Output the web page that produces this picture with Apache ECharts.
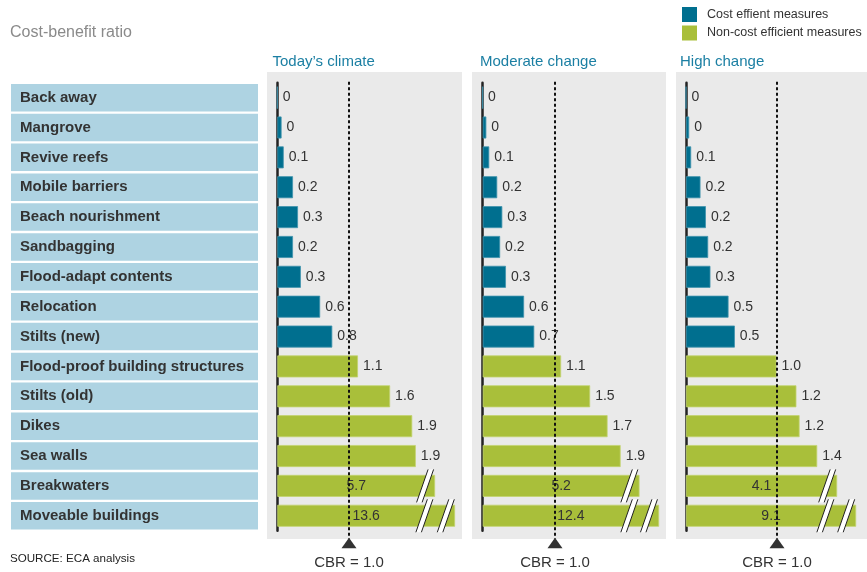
<!DOCTYPE html>
<html><head><meta charset="utf-8">
<script src="https://cdn.jsdelivr.net/npm/echarts@6/dist/echarts.min.js"></script>
<style>html,body{margin:0;padding:0;background:#fff}#c{width:867px;height:572px}</style>
</head><body><div id="c"></div>
<script>
// ---- data ----
const categories = ['Back away','Mangrove','Revive reefs','Mobile barriers','Beach nourishment','Sandbagging','Flood-adapt contents','Relocation','Stilts (new)','Flood-proof building structures','Stilts (old)','Dikes','Sea walls','Breakwaters','Moveable buildings'];
const costEfficient = [1,1,1,1,1,1,1,1,1,0,0,0,0,0,0];
const seriesNames = ['Cost effient measures','Non-cost efficient measures'];
const panelTitles = ['Today’s climate','Moderate change','High change'];
// bar lengths as drawn (truncated bars use their drawn length)
const todayBars    = [0, 0.06, 0.09, 0.22, 0.29, 0.22, 0.33, 0.60, 0.77, 1.13, 1.58, 1.89, 1.94, 2.21, 2.49];
const moderateBars = [0, 0.05, 0.09, 0.20, 0.27, 0.24, 0.32, 0.57, 0.71, 1.08, 1.48, 1.72, 1.90, 2.16, 2.43];
const highBars     = [0, 0.035, 0.057, 0.16, 0.22, 0.245, 0.27, 0.47, 0.54, 1.00, 1.22, 1.255, 1.45, 1.67, 1.88];
// printed values
const todayLabels    = ['0','0','0.1','0.2','0.3','0.2','0.3','0.6','0.8','1.1','1.6','1.9','1.9','5.7','13.6'];
const moderateLabels = ['0','0','0.1','0.2','0.3','0.2','0.3','0.6','0.7','1.1','1.5','1.7','1.9','5.2','12.4'];
const highLabels     = ['0','0','0.1','0.2','0.2','0.2','0.3','0.5','0.5','1.0','1.2','1.2','1.4','4.1','9.1'];
// axis breaks: [position on value axis, category]
const todayBreaks    = [[2.07,'Breakwaters'],[2.06,'Moveable buildings'],[2.36,'Moveable buildings']];
const moderateBreaks = [[2.02,'Breakwaters'],[2.02,'Moveable buildings'],[2.29,'Moveable buildings']];
const highBreaks     = [[1.56,'Breakwaters'],[1.54,'Moveable buildings'],[1.77,'Moveable buildings']];
const cbrValue = 1.0;
const cbrText = 'CBR = 1.0';

// ---- layout / style ----
const FONT = 'Arial, "Liberation Sans", sans-serif';
const TEAL = '#006f8f', GREEN = '#a9bf3a';
const panels = [
  {bars: todayBars, labels: todayLabels, breaks: todayBreaks, left: 277.3, unit: 71.4, max: 2.6, bg:[267,462], titleX: 272.5},
  {bars: moderateBars, labels: moderateLabels, breaks: moderateBreaks, left: 482.7, unit: 72.6, max: 2.6, bg:[472,666], titleX: 480},
  {bars: highBars, labels: highLabels, breaks: highBreaks, left: 686, unit: 94, max: 2.0, bg:[676,867], titleX: 680}
];
const GRID_TOP = 82.7, GRID_H = 448;

const grids = [], xAxes = [], yAxes = [], series = [], graphics = [];
panels.forEach((p, k) => {
  graphics.push({type:'rect', z:0, shape:{x:p.bg[0], y:72, width:p.bg[1]-p.bg[0], height:467}, style:{fill:'#eaeaea'}});
  graphics.push({type:'text', x:p.titleX, y:62, style:{text:panelTitles[k], fill:'#1b7fa3', font:'15px '+FONT, verticalAlign:'middle'}});
  grids.push({left:p.left, top:GRID_TOP, width:p.unit*p.max, height:GRID_H});
  xAxes.push({type:'value', gridIndex:k, min:0, max:p.max, show:false});
  yAxes.push({
    type:'category', gridIndex:k, data:categories, inverse:true,
    axisTick:{show:false},
    axisLine:{show:true, lineStyle:{color:'#222', width:2.5}},
    axisLabel: k === 0 ? {
      show:true, interval:0, margin:266.3, align:'left',
      backgroundColor:'#aed3e2', padding:[2,0,0,9], width:238, height:25.5, lineHeight:25.5,
      fontFamily:FONT, fontSize:15, fontWeight:'bold', color:'#333'
    } : {show:false}
  });
  const truncated = new Set(p.breaks.map(b => categories.indexOf(b[1])));
  [1, 0].forEach((flag, s) => {
    series.push({
      type:'bar', name: seriesNames[s], xAxisIndex:k, yAxisIndex:k,
      barWidth:22, barGap:'-100%',
      itemStyle:{color: flag ? TEAL : GREEN, borderColor: flag ? '#3f93ad' : '#c3d36f', borderWidth:0.8},
      label:{show:true, position:'right', distance:5, fontFamily:FONT, fontSize:14, color:'#333',
        formatter: prm => p.labels[prm.dataIndex]},
      data: p.bars.map((v, i) => costEfficient[i] === flag
        ? (truncated.has(i) ? {value:v, label:{position:'inside'}} : v) : '-'),
      z:2
    });
  });
  series.push({
    type:'custom', name:'cbr'+k, xAxisIndex:k, yAxisIndex:k, z:5, clip:false, silent:true,
    data:[[cbrValue, 0]],
    renderItem:(params, api) => {
      const x = Math.round(api.coord([api.value(0), api.value(1)])[0]);
      const cs = params.coordSys, bottom = cs.y + cs.height;
      return {type:'group', children:[
        {type:'line', shape:{x1:x, y1:cs.y-1, x2:x, y2:bottom+8}, style:{stroke:'#111', lineWidth:2, lineDash:[3,2.5]}},
        {type:'polygon', shape:{points:[[x,bottom+7],[x-7.5,bottom+17.5],[x+7.5,bottom+17.5]]}, style:{fill:'#333'}},
        {type:'text', x:x, y:bottom+32, style:{text:cbrText, fill:'#333', font:'15px '+FONT, align:'center', verticalAlign:'middle'}}
      ]};
    }
  });
  series.push({
    type:'custom', name:'breaks'+k, xAxisIndex:k, yAxisIndex:k, z:6, clip:false, silent:true,
    data: p.breaks.map(b => [b[0], categories.indexOf(b[1])]),
    renderItem:(params, api) => {
      const c = api.coord([api.value(0), api.value(1)]);
      const cx = c[0], cy = c[1], h = 16.5;
      return {type:'group', children:[
        {type:'polygon', shape:{points:[[cx-8.5,cy+h],[cx-3,cy+h],[cx+8.5,cy-h],[cx+3,cy-h]]}, style:{fill:'#fff'}},
        {type:'line', shape:{x1:cx-8.5,y1:cy+h,x2:cx+3,y2:cy-h}, style:{stroke:'#222', lineWidth:1}},
        {type:'line', shape:{x1:cx-3,y1:cy+h,x2:cx+8.5,y2:cy-h}, style:{stroke:'#222', lineWidth:1}}
      ]};
    }
  });
});
graphics.push({type:'text', x:10, y:33, style:{text:'Cost-benefit ratio', fill:'#8a8a8a', font:'16px '+FONT, verticalAlign:'middle'}});
graphics.push({type:'text', x:10, y:559, style:{text:'SOURCE: ECA analysis', fill:'#222', font:'11.6px '+FONT, verticalAlign:'middle'}});

const chart = echarts.init(document.getElementById('c'), null, {renderer:'canvas'});
chart.setOption({
  animation:false,
  backgroundColor:'#fff',
  textStyle:{fontFamily:FONT},
  legend:{orient:'vertical', left:682, top:7, padding:0, itemWidth:15, itemHeight:15, itemGap:3.5, icon:'rect', selectedMode:false,
    itemStyle:{borderWidth:0},
    data:seriesNames, textStyle:{fontSize:12.5, color:'#333', fontFamily:FONT, padding:[0,0,0,5]}},
  graphic:{elements:graphics},
  grid:grids, xAxis:xAxes, yAxis:yAxes, series:series
});
</script></body></html>
